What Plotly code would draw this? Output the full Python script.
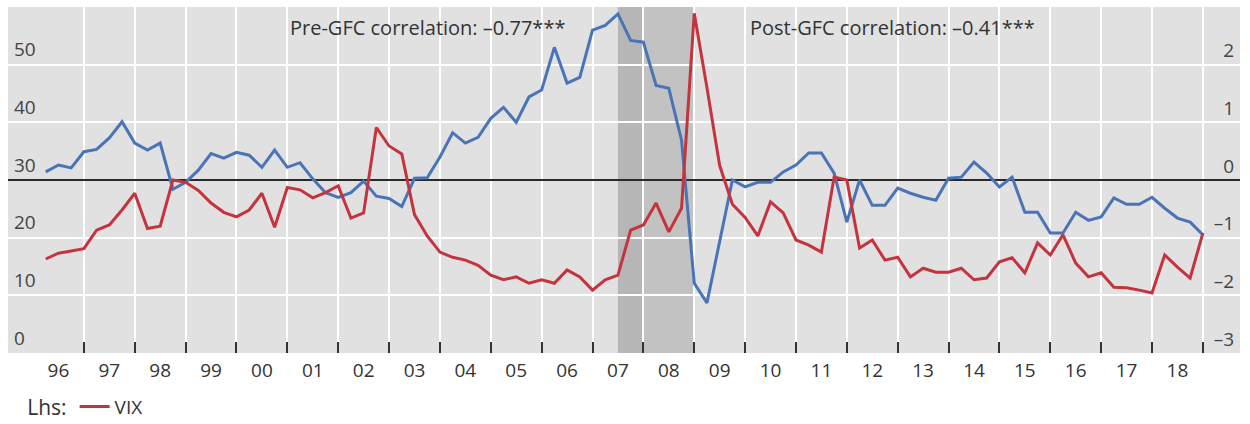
import plotly.graph_objects as go

# Quarterly observations, 1996Q1 to 2018Q4
years = list(range(1996, 2019))
quarters = [f"{y}Q{q}" for y in years for q in (1, 2, 3, 4)]

# Lhs: VIX (index level)
vix = [16.3, 17.3, 17.7, 18.1, 21.3, 22.2, 24.8, 27.7, 21.6, 22.0,
       30.0, 29.6, 28.2, 26.0, 24.4, 23.6, 24.8, 27.7, 21.8, 28.7,
       28.3, 26.9, 27.8, 29.0, 23.4, 24.3, 39.1, 35.9, 34.5, 24.0,
       20.3, 17.5, 16.6, 16.1, 15.2, 13.5, 12.7, 13.2, 12.1, 12.7,
       12.1, 14.4, 13.2, 10.9, 12.7, 13.5, 21.3, 22.2, 26.0, 21.0,
       25.1, 58.9, 46.0, 32.5, 25.8, 23.5, 20.3, 26.2, 24.3, 19.6,
       18.7, 17.5, 30.5, 30.0, 18.2, 19.6, 16.1, 16.6, 13.2, 14.7,
       14.0, 14.0, 14.7, 12.7, 13.0, 15.8, 16.5, 13.9, 19.1, 17.0,
       20.5, 15.6, 13.2, 13.9, 11.4, 11.3, 10.9, 10.4, 17.0, 14.9,
       13.0, 20.8]

# Rhs series
rhs = [0.14, 0.26, 0.21, 0.49, 0.53, 0.73, 1.01, 0.64, 0.52, 0.64,
       -0.16, -0.04, 0.17, 0.46, 0.38, 0.48, 0.43, 0.22, 0.52, 0.22,
       0.30, 0.02, -0.22, -0.30, -0.22, -0.02, -0.28, -0.32, -0.46, 0.03,
       0.04, 0.40, 0.82, 0.64, 0.74, 1.07, 1.26, 1.00, 1.44, 1.56,
       2.30, 1.68, 1.78, 2.60, 2.68, 2.88, 2.42, 2.39, 1.64, 1.59,
       0.69, -1.79, -2.13, -1.05, 0.00, -0.12, -0.04, -0.04, 0.14, 0.26,
       0.47, 0.47, 0.12, -0.73, 0.00, -0.44, -0.44, -0.14, -0.23, -0.30,
       -0.35, 0.03, 0.05, 0.31, 0.12, -0.12, 0.05, -0.56, -0.56, -0.92,
       -0.92, -0.56, -0.70, -0.64, -0.31, -0.42, -0.42, -0.30, -0.49, -0.66,
       -0.73, -0.95]

year_labels = [f"{y % 100:02d}" for y in years]
lhs_ticks = [0, 10, 20, 30, 40, 50]
rhs_ticks = [-3, -2, -1, 0, 1, 2]
rhs_labels = ["–3", "–2", "–1", "0", "1", "2"]

# GFC shading (decimal years)
gfc_bands = [(2007.5, 2008.0, "#b6b6b6"), (2008.0, 2009.0, "#c2c2c2")]

annotations_text = [
    (2001.02, "Pre-GFC correlation: –0.77***"),
    (2010.06, "Post-GFC correlation: –0.41***"),
]

# quarter-end positions on a decimal-year axis
xpos = [int(q[:4]) + int(q[-1]) * 0.25 for q in quarters]
year_mid = [y + 0.5 for y in years]
year_bounds = [y + 1 for y in years]

RED = "#c4343f"
BLUE = "#4a74b6"
TEXT = "#333333"
FONT = "Open Sans"
FS = 19

fig = go.Figure()

fig.add_trace(go.Scatter(
    x=xpos, y=rhs, mode="lines", name="Rhs",
    line=dict(color=BLUE, width=3), showlegend=False,
    xaxis="x", yaxis="y",
))
fig.add_trace(go.Scatter(
    x=xpos, y=vix, mode="lines", name="VIX",
    line=dict(color=RED, width=3),
    xaxis="x", yaxis="y2",
))

for x0, x1, col in gfc_bands:
    fig.add_shape(type="rect", xref="x", yref="paper", x0=x0, x1=x1, y0=0, y1=1,
                  fillcolor=col, line=dict(width=0), layer="below")

for xa, txt in annotations_text:
    fig.add_annotation(x=xa, y=0.94, xref="x", yref="paper", text=txt,
                       showarrow=False, xanchor="left", yanchor="middle",
                       font=dict(family=FONT, size=20, color=TEXT))

fig.update_layout(
    width=1250, height=424,
    margin=dict(l=8, r=10, t=7, b=71, autoexpand=False),
    plot_bgcolor="#e1e1e1", paper_bgcolor="white",
    font=dict(family=FONT, size=FS, color=TEXT),
    xaxis=dict(
        range=[1995.508, 2019.73],
        tickmode="array", tickvals=year_mid, ticktext=year_labels,
        ticks="", showgrid=False, zeroline=False, showline=False,
        ticklabelstandoff=4, automargin=False,
        minor=dict(tickmode="array", tickvals=year_bounds, ticks="inside",
                   ticklen=11, tickwidth=2, tickcolor="#333333",
                   showgrid=True, gridcolor="white", gridwidth=2),
    ),
    yaxis=dict(
        side="right", range=[-3, 3],
        tickmode="array", tickvals=rhs_ticks, ticktext=rhs_labels,
        ticklabelposition="inside", ticklabelshift=-14, ticklabelstandoff=3,
        showgrid=True, gridcolor="white", gridwidth=2,
        zeroline=True, zerolinecolor="#2a2a2a", zerolinewidth=1.5,
        showline=False, ticks="", automargin=False,
    ),
    yaxis2=dict(
        overlaying="y", side="left", range=[0, 60],
        tickmode="array", tickvals=lhs_ticks,
        ticklabelposition="inside", ticklabelshift=-15, ticklabelstandoff=3,
        showgrid=False, zeroline=False, showline=False, ticks="",
        automargin=False,
    ),
    legend=dict(
        orientation="h", x=0.014, xanchor="left", y=-0.155, yanchor="middle",
        valign="middle",
        title=dict(text="Lhs:", side="left",
                   font=dict(family=FONT, size=21, color=TEXT)),
        font=dict(family=FONT, size=FS, color=TEXT),
        bgcolor="rgba(0,0,0,0)",
    ),
)

fig.write_html("out.html")
